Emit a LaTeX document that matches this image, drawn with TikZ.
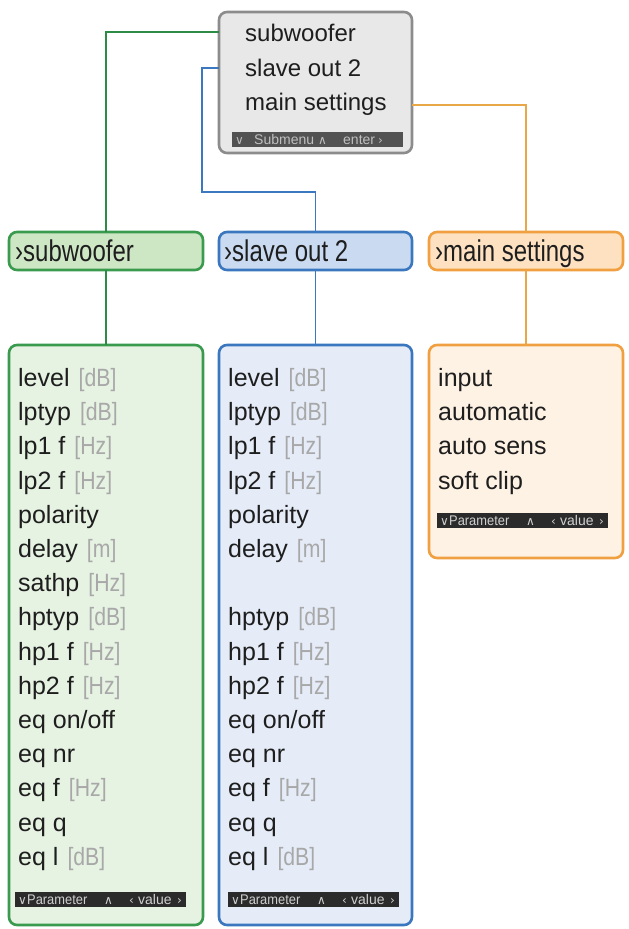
\documentclass[tikz,border=0pt]{standalone}
\usepackage{fontspec}
\setmainfont{Liberation Sans}
\newfontfamily\symf{DejaVu Sans}
\usepackage{graphicx}
\definecolor{txt}{HTML}{1E1E1E}
\definecolor{unitc}{HTML}{A8A8A8}
\definecolor{gbord}{HTML}{3A9A4E}
\definecolor{gfill}{HTML}{E6F2E2}
\definecolor{ghead}{HTML}{CDE7C5}
\definecolor{bbord}{HTML}{3A77BF}
\definecolor{bfill}{HTML}{E5ECF8}
\definecolor{bhead}{HTML}{C9DAF1}
\definecolor{obord}{HTML}{F0A040}
\definecolor{ofill}{HTML}{FDF2E4}
\definecolor{ohead}{HTML}{FDE1C0}
\definecolor{kbord}{HTML}{8C8C8C}
\definecolor{kfill}{HTML}{E8E8E8}
\definecolor{barc}{HTML}{2B2B2B}
\definecolor{bartxt}{HTML}{D0D0D0}
\definecolor{gline}{HTML}{2E8B45}
\definecolor{bline}{HTML}{3B78C0}
\definecolor{oline}{HTML}{E8A848}
\newcommand\placeat[2]{\rlap{\hspace{#1}#2}}
\newcommand\chev[1]{{\symf\fontsize{12}{12}\selectfont #1}}
\newcommand\parbar{\makebox[171pt][l]{\placeat{3pt}{\chev{∨}}\placeat{12pt}{\scalebox{0.92}[1]{Parameter}}\placeat{89pt}{\chev{∧}}\placeat{114pt}{\chev{‹}}\placeat{123pt}{value}\placeat{162pt}{\chev{›}}}}
\newcommand\subbar{\makebox[171pt][l]{\placeat{3pt}{\chev{∨}}\placeat{22pt}{Submenu}\placeat{86pt}{\chev{∧}}\placeat{111pt}{enter}\placeat{146pt}{\chev{›}}}}
\newcommand\headtxt[1]{\scalebox{0.8}[1]{#1}}
\begin{document}
\begin{tikzpicture}[x=1pt,y=-1pt,
  box/.style={draw, line width=2.6pt, rounded corners=8pt, inner sep=0pt, outer sep=0pt, anchor=north west},
  bar/.style={fill=barc, text=bartxt, inner sep=0pt, minimum height=15pt, anchor=north west, font=\fontsize{14}{14}\selectfont},
  item/.style={anchor=base west, inner sep=0pt, text=txt, font=\fontsize{25}{25}\selectfont},
  headt/.style={anchor=base west, inner sep=0pt, text=txt, font=\fontsize{30}{30}\selectfont},
  conn/.style={line width=1.8pt}
]
\useasboundingbox (0,0) rectangle (629,929);
% top menu box
\node[box, draw=kbord, fill=kfill, minimum width=193pt, minimum height=141pt] (top) at (219,12) {};
\node[item, font=\fontsize{24}{24}\selectfont] (t1) at (245,41) {subwoofer};
\node[item, font=\fontsize{24}{24}\selectfont] (t2) at (245,76.5) {slave out 2};
\node[item, font=\fontsize{24}{24}\selectfont] (t3) at (245,110.5) {main settings};
\node[bar, fill=black!68, text=black!25] (tbar) at (232,132) {\subbar};
% headers
\node[box, draw=gbord, fill=ghead, minimum width=194pt, minimum height=38pt] (hsub) at (9,232) {};
\node[box, draw=bbord, fill=bhead, minimum width=193pt, minimum height=38pt] (hslave) at (219,232) {};
\node[box, draw=obord, fill=ohead, minimum width=194pt, minimum height=38pt] (hmain) at (429,232) {};
\node[headt] (hsubt) at (15,261) {\headtxt{›subwoofer}};
\node[headt] (hslavet) at (224,261) {\headtxt{›slave out 2}};
\node[headt] (hmaint) at (435,261) {\headtxt{›main settings}};
% bodies
\node[box, draw=gbord, fill=gfill, minimum width=194pt, minimum height=580pt] (bsub) at (9,345) {};
\node[box, draw=bbord, fill=bfill, minimum width=193pt, minimum height=580pt] (bslave) at (219,345) {};
\node[box, draw=obord, fill=ofill, minimum width=194pt, minimum height=213pt] (bmain) at (429,345) {};
% connectors
\coordinate (bk) at (202,192);
\draw[conn, draw=gline] (top.west |- 0,32) -| (hsub.north);
\draw[conn, draw=bline] (top.west |- 0,68) -| (bk) -| (hslave.north);
\draw[conn, draw=oline] (top.east |- 0,105) -| (hmain.north);
\draw[conn, draw=gline] (hsub.south) -- (bsub.north);
\draw[conn, draw=bline] (hslave.south) -- (bslave.north);
\draw[conn, draw=oline] (hmain.south) -- (bmain.north);
% subwoofer items
\foreach \i/\t/\u in {0/level/{[dB]},1/lptyp/{[dB]},2/{lp1 f}/{[Hz]},3/{lp2 f}/{[Hz]},4/polarity/{},5/delay/{[m]},6/sathp/{[Hz]},7/hptyp/{[dB]},8/{hp1 f}/{[Hz]},9/{hp2 f}/{[Hz]},10/{eq on/off}/{},11/{eq nr}/{},12/{eq f}/{[Hz]},13/{eq q}/{},14/{eq l}/{[dB]}}{
  \node[item] (g\i) at (18,{386.5+34.2*\i}) {\t\hspace{9pt}{\color{unitc}\scalebox{0.85}[1]{\u}}};
}
% slave out items
\foreach \i/\t/\u in {0/level/{[dB]},1/lptyp/{[dB]},2/{lp1 f}/{[Hz]},3/{lp2 f}/{[Hz]},4/polarity/{},5/delay/{[m]},7/hptyp/{[dB]},8/{hp1 f}/{[Hz]},9/{hp2 f}/{[Hz]},10/{eq on/off}/{},11/{eq nr}/{},12/{eq f}/{[Hz]},13/{eq q}/{},14/{eq l}/{[dB]}}{
  \node[item] (s\i) at (228,{386.5+34.2*\i}) {\t\hspace{9pt}{\color{unitc}\scalebox{0.85}[1]{\u}}};
}
% main settings items
\foreach \i/\t in {0/input,1/automatic,2/{auto sens},3/{soft clip}}{
  \node[item] (m\i) at (438,{386.5+34.2*\i}) {\t};
}
% parameter bars
\node[bar] (gbar) at (15,892) {\parbar};
\node[bar] (sbar) at (228,892) {\parbar};
\node[bar] (mbar) at (437,513) {\parbar};
\end{tikzpicture}
\end{document}
